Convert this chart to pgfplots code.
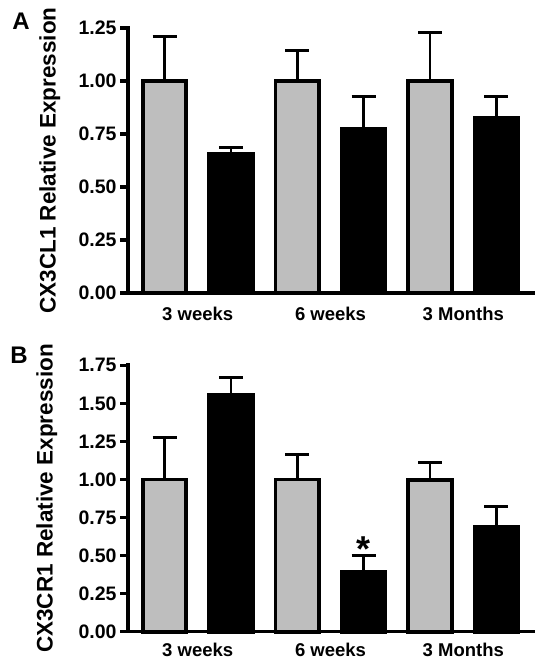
\documentclass[border=0pt]{standalone}
\usepackage{fontspec}
\setmainfont{Liberation Sans}
\usepackage{pgfplots}
\pgfplotsset{compat=1.18}
\definecolor{bargray}{RGB}{190,190,190}
\pgfplotsset{
  mystyle/.style={
    scale only axis, width=405pt,
    xmin=-0.55, xmax=5.55, ymin=0,
    axis x line=bottom, axis y line=left,
    axis line style={-, line width=3.6pt, line cap=rect},
    every outer x axis line/.append style={-},
    every outer y axis line/.append style={-},
    xtick={0.5,2.5,4.5},
    xticklabels={3 weeks,6 weeks,3 Months},
    x tick style={draw=none},
    xticklabel style={font=\fontsize{18.5}{20}\selectfont\bfseries},
    tick align=outside,
    major tick length=8pt,
    y tick style={line width=3.2pt, black},
    yticklabel style={font=\fontsize{19.5}{21}\selectfont\bfseries,
      /pgf/number format/.cd, fixed, fixed zerofill, precision=2, assume math mode=true},
    ylabel style={font=\fontsize{22.5}{25}\selectfont\bfseries,
      at={(axis description cs:-0.193,0.5)}, anchor=center},
    axis on top,
    clip=false,
    error bars/y dir=plus, error bars/y explicit,
    error bars/error bar style={line width=2.8pt, black},
    error bars/error mark options={rotate=90, mark size=12pt, line width=3pt, black},
  },
  graybar/.style={ybar, bar width=43.5pt, bar shift=0pt, draw=black, line width=3.8pt, fill=bargray},
  blackbar/.style={ybar, bar width=43.5pt, bar shift=0pt, draw=black, line width=3.8pt, fill=black},
}
\begin{document}
\begin{tikzpicture}
\useasboundingbox (0pt,0pt) rectangle (543pt,663pt);
% Panel A
\begin{axis}[mystyle, at={(128pt,370pt)}, anchor=south west, height=265pt,
  ymax=1.25, ytick={0,0.25,0.5,0.75,1.0,1.25},
  ylabel={CX3CL1 Relative Expression},
  xticklabel style={yshift=-3pt}]
\addplot[graybar] coordinates {(0,1.00) +- (0,0.21) (2,1.00) +- (0,0.146) (4,1.00) +- (0,0.228)};
\addplot[blackbar] coordinates {(1,0.655) +- (0,0.032) (3,0.774) +- (0,0.152) (5,0.824) +- (0,0.102)};
\end{axis}
% Panel B
\begin{axis}[mystyle, at={(128pt,31.3pt)}, anchor=south west, height=266.4pt,
  ymax=1.75, ytick={0,0.25,0.5,0.75,1.0,1.25,1.5,1.75},
  ylabel={CX3CR1 Relative Expression},
  ylabel style={yshift=3pt},
  xticklabel style={yshift=0pt}]
\addplot[graybar] coordinates {(0,1.00) +- (0,0.273) (2,1.00) +- (0,0.165) (4,0.995) +- (0,0.115)};
\addplot[blackbar] coordinates {(1,1.558) +- (0,0.115) (3,0.393) +- (0,0.105) (5,0.69) +- (0,0.13)};
\node[anchor=base, font=\fontsize{36}{38}\selectfont\bfseries, inner sep=0pt] at (axis cs:3,0.462) {*};
\end{axis}
\node[font=\fontsize{24}{26}\selectfont\bfseries] at (21pt,641.5pt) {A};
\node[font=\fontsize{24}{26}\selectfont\bfseries] at (19pt,307.5pt) {B};
\end{tikzpicture}
\end{document}
